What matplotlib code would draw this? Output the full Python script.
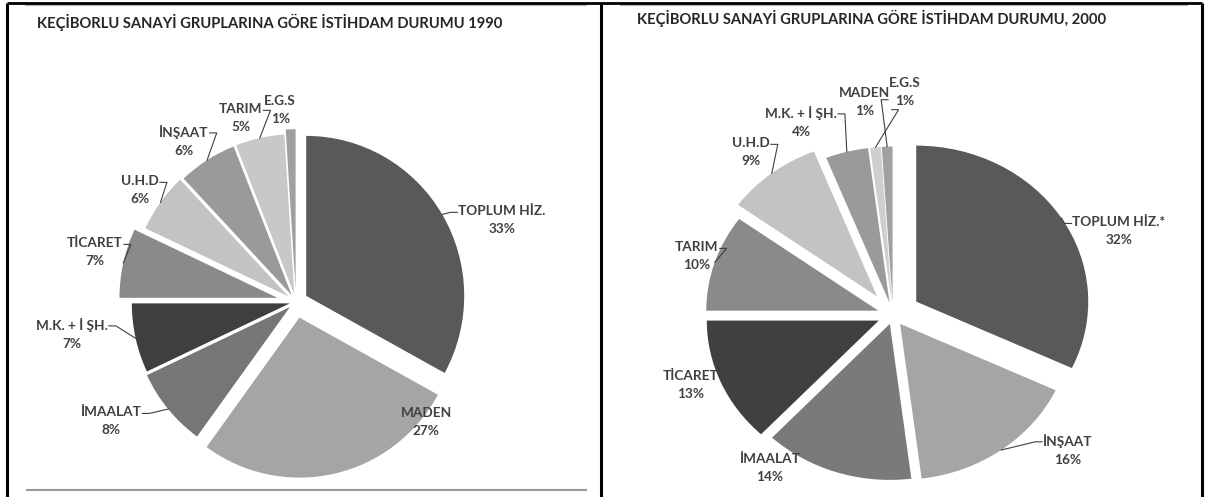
import numpy as np
import matplotlib
matplotlib.use("Agg")
import matplotlib.pyplot as plt
from matplotlib.lines import Line2D

W, H = 1205, 497

# --- data -------------------------------------------------------------
names_1990 = ["TOPLUM HİZ.", "MADEN", "İMAALAT", "M.K. + İ ŞH.", "TİCARET",
              "U.H.D", "İNŞAAT", "TARIM", "E.G.S"]
pct_1990 = [33, 27, 8, 7, 7, 6, 6, 5, 1]

names_2000 = ["TOPLUM HİZ.*", "İNŞAAT", "İMAALAT", "TİCARET", "TARIM",
              "U.H.D", "M.K. + İ ŞH.", "MADEN", "E.G.S"]
pct_2000 = [32, 16, 14, 13, 10, 9, 4, 1, 1]

title_1990 = "KEÇİBORLU SANAYİ GRUPLARINA GÖRE İSTİHDAM DURUMU 1990"
title_2000 = "KEÇİBORLU SANAYİ GRUPLARINA GÖRE İSTİHDAM DURUMU, 2000"

# --- styling / layout ---------------------------------------------------
colors_1990 = ["#595959", "#a5a5a5", "#767676", "#3f3f3f", "#8a8a8a",
               "#c3c3c3", "#9a9a9a", "#c8c8c8", "#a0a0a0"]
colors_2000 = ["#595959", "#a5a5a5", "#7a7a7a", "#404040", "#8a8a8a",
               "#c3c3c3", "#9a9a9a", "#cfcfcf", "#a0a0a0"]
explode_1990 = [0.075, 0.10, 0.05, 0.04, 0.12, 0.06, 0.05, 0.05, 0.08]
explode_2000 = [0.16, 0.07, 0.06, 0.09, 0.09, 0.15, 0.08, 0.08, 0.08]

# label centres in axis units, leader row (None = no leader)
lab_1990 = [(1.304, 0.5125), (0.823, -0.75), (-1.171, -0.744), (-1.418, -0.2),
            (-1.272, 0.3125), (-0.987, 0.70), (-0.709, 1.006), (-0.35, 1.15),
            (-0.10, 1.20)]
row_1990 = [0, None, 0, 0, 0, 0, 0, 0, None]
lab_2000 = [(1.314, 0.538), (1.017, -0.865), (-0.715, -0.981), (-1.175, -0.449),
            (-1.14, 0.378), (-0.826, 1.045), (-0.535, 1.237), (-0.163, 1.365),
            (0.070, 1.429)]
row_2000 = [0, 0, None, None, 0, 0, 0, 1, 1]

TXT = "#404040"
FONT = ["Lato", "DejaVu Sans"]
plt.rcParams["font.family"] = FONT

fig = plt.figure(figsize=(W / 100, H / 100), dpi=100)
fig.patch.set_facecolor("white")


def fig_line(x0, y0, x1, y1, color, lw):
    fig.add_artist(Line2D([x0 / W, x1 / W], [1 - y0 / H, 1 - y1 / H],
                          transform=fig.transFigure, color=color, lw=lw,
                          solid_capstyle="butt"))


def make_axes(box, center, rx, ry):
    x0, y0, x1, y1 = box
    ax = fig.add_axes([x0 / W, 1 - y1 / H, (x1 - x0) / W, (y1 - y0) / H])
    return ax, ((x0 - center[0]) / rx, (x1 - center[0]) / rx), \
        ((center[1] - y1) / ry, (center[1] - y0) / ry)


def draw_pie(ax, xlim, ylim, vals, names, colors, explode, labpos):
    wedges, _ = ax.pie(vals, colors=colors, explode=explode, startangle=90,
                       counterclock=False, wedgeprops=dict(linewidth=0))
    ax.set_aspect("auto")
    ax.set_xlim(*xlim)
    ax.set_ylim(*ylim)
    ax.axis("off")
    texts = []
    for name, v, (lx, ly) in zip(names, vals, labpos):
        t = ax.text(lx, ly, f"{name}\n{v}%", ha="center", va="center",
                    fontsize=9.8, fontweight="bold", color=TXT,
                    linespacing=1.65)
        texts.append(t)
    return wedges, texts


def draw_leaders(ax, wedges, texts, rows):
    r = fig.canvas.get_renderer()
    inv = ax.transData.inverted()
    for w, t, row in zip(wedges, texts, rows):
        if row is None:
            continue
        mid = np.deg2rad((w.theta1 + w.theta2) / 2)
        cx, cy = w.center
        ex, ey = cx + w.r * np.cos(mid), cy + w.r * np.sin(mid)
        edx, edy = ax.transData.transform((ex, ey))
        bb = t.get_window_extent(r)
        ty = bb.y1 - (row + 0.5) * bb.height / 2
        if edx > (bb.x0 + bb.x1) / 2:
            sx = bb.x1 + 1
            kx = sx + 7
        else:
            sx = bb.x0 - 1
            kx = sx - 7
        pts = inv.transform([(sx, ty), (kx, ty), (edx, edy)])
        ax.plot(pts[:, 0], pts[:, 1], color=TXT, lw=0.8, clip_on=False)


axL, xlL, ylL = make_axes((8, 40, 600, 497), (296, 302), 158, 160)
wL, tL = draw_pie(axL, xlL, ylL, pct_1990, names_1990, colors_1990,
                  explode_1990, lab_1990)
axR, xlR, ylR = make_axes((602, 40, 1202, 497), (893, 315), 172, 156)
wR, tR = draw_pie(axR, xlR, ylR, pct_2000, names_2000, colors_2000,
                  explode_2000, lab_2000)

fig.canvas.draw()
draw_leaders(axL, wL, tL, row_1990)
draw_leaders(axR, wR, tR, row_2000)

fig.text(37 / W, 1 - 22 / H, title_1990, ha="left", va="center",
         fontsize=10.6, fontweight="bold", color="#262626")
fig.text(637 / W, 1 - 18 / H, title_2000, ha="left", va="center",
         fontsize=10.6, fontweight="bold", color="#262626")

# frame lines of the table cells
fig_line(25, 5, 587, 5, "#b4b4b4", 1.5)
fig_line(620, 5, 1188, 5, "#b4b4b4", 1.5)
fig_line(26, 490, 587, 490, "#9a9a9a", 1.5)
fig_line(7, 3, 1202, 3, "black", 2.0)
fig_line(7, 3, 7, 497, "black", 2.2)
fig_line(601, 3, 601, 497, "black", 2.2)
fig_line(1202, 3, 1202, 497, "black", 2.2)

fig.savefig("out.png", dpi=100, facecolor="white")
